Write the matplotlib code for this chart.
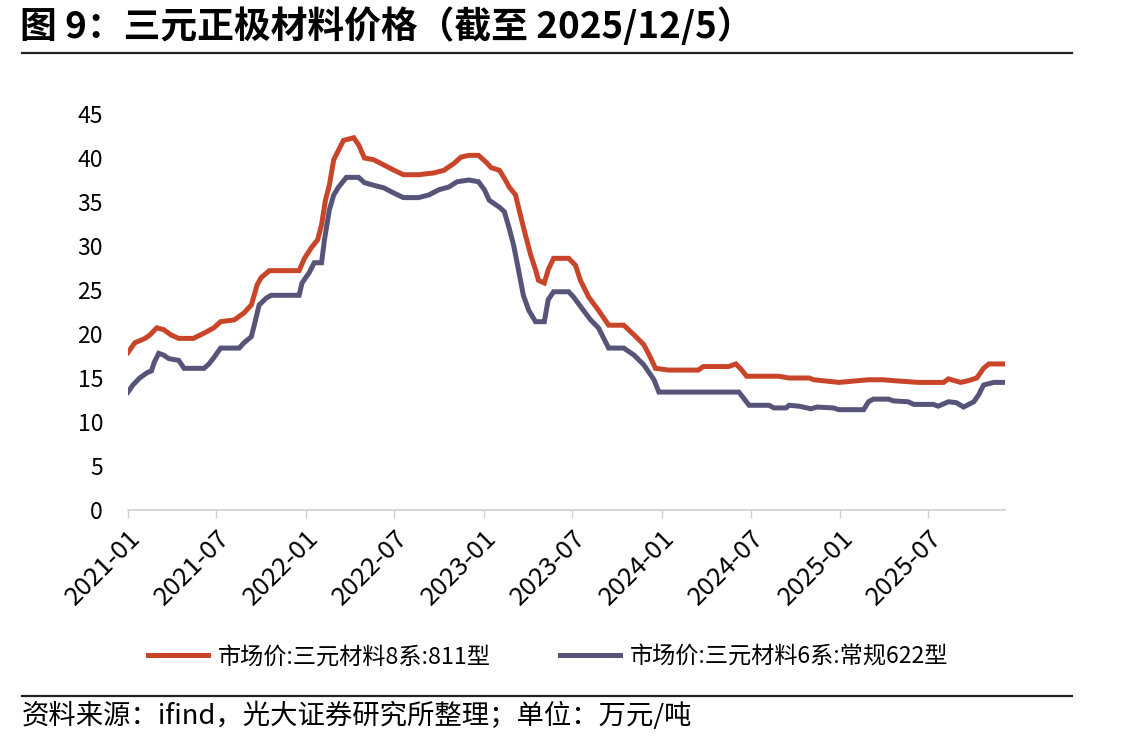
import matplotlib
matplotlib.use("Agg")
import matplotlib.pyplot as plt
import numpy as np
from matplotlib.lines import Line2D

plt.rcParams['font.family'] = ['Noto Sans CJK SC', 'DejaVu Sans']

# ---- data (万元/吨) ----
dates_811 = ["2021-01-01", "2021-01-15", "2021-02-05", "2021-02-15", "2021-03-01", "2021-03-15",
             "2021-03-30", "2021-04-15", "2021-05-15", "2021-06-06", "2021-06-26", "2021-07-10",
             "2021-08-07", "2021-08-27", "2021-09-11", "2021-09-23", "2021-10-01", "2021-10-18",
             "2021-12-18", "2021-12-29", "2022-01-12", "2022-01-25", "2022-02-02", "2022-02-10",
             "2022-02-18", "2022-02-27", "2022-03-09", "2022-03-19", "2022-04-09", "2022-04-19",
             "2022-05-01", "2022-05-20", "2022-06-10", "2022-07-01", "2022-07-20", "2022-08-20",
             "2022-09-20", "2022-10-11", "2022-11-01", "2022-11-15", "2022-12-01", "2022-12-21",
             "2023-01-06", "2023-01-16", "2023-02-02", "2023-02-12", "2023-02-22", "2023-03-07",
             "2023-03-17", "2023-03-27", "2023-04-07", "2023-04-17", "2023-04-23", "2023-05-05",
             "2023-05-13", "2023-05-24", "2023-06-24", "2023-07-08", "2023-07-18", "2023-08-04",
             "2023-08-24", "2023-09-14", "2023-10-15", "2023-11-05", "2023-11-25", "2023-12-09",
             "2023-12-19", "2024-01-15", "2024-03-16", "2024-03-26", "2024-05-17", "2024-06-01",
             "2024-06-13", "2024-06-23", "2024-08-28", "2024-09-18", "2024-10-29", "2024-11-08",
             "2024-12-29", "2025-02-28", "2025-03-30", "2025-04-20", "2025-06-10", "2025-08-01",
             "2025-08-11", "2025-09-05", "2025-09-21", "2025-10-08", "2025-10-22", "2025-11-02",
             "2025-12-05"]
price_811 = [17.9, 19.0, 19.5, 19.9, 20.7, 20.5,
             19.9, 19.5, 19.5, 20.1, 20.7, 21.4,
             21.6, 22.4, 23.3, 25.6, 26.4, 27.2,
             27.2, 28.6, 29.8, 30.7, 32.4, 35.2,
             36.9, 39.8, 40.9, 42.0, 42.3, 41.5,
             40.0, 39.8, 39.2, 38.6, 38.1, 38.1,
             38.3, 38.6, 39.4, 40.1, 40.3, 40.3,
             39.5, 38.9, 38.6, 37.7, 36.7, 35.8,
             33.5, 31.3, 29.0, 27.3, 26.1, 25.8,
             27.3, 28.6, 28.6, 27.8, 26.1, 24.2,
             22.7, 21.0, 21.0, 19.9, 18.8, 17.3,
             16.1, 15.9, 15.9, 16.3, 16.3, 16.6,
             15.9, 15.2, 15.2, 15.0, 15.0, 14.8,
             14.5, 14.8, 14.8, 14.7, 14.5, 14.5,
             14.9, 14.5, 14.7, 15.0, 16.1, 16.6,
             16.6]

dates_622 = ["2021-01-01", "2021-01-11", "2021-01-25", "2021-02-09", "2021-02-18", "2021-02-24",
             "2021-03-05", "2021-03-15", "2021-03-26", "2021-04-15", "2021-04-26", "2021-06-06",
             "2021-06-16", "2021-06-26", "2021-07-10", "2021-08-17", "2021-08-27", "2021-09-11",
             "2021-09-17", "2021-09-27", "2021-10-12", "2021-10-22", "2021-12-18", "2021-12-24",
             "2022-01-08", "2022-01-18", "2022-02-02", "2022-02-08", "2022-02-18", "2022-02-27",
             "2022-03-09", "2022-03-25", "2022-04-19", "2022-05-01", "2022-05-20", "2022-06-10",
             "2022-07-01", "2022-07-20", "2022-08-20", "2022-09-10", "2022-10-01", "2022-10-21",
             "2022-11-07", "2022-12-01", "2022-12-21", "2023-01-02", "2023-01-12", "2023-02-02",
             "2023-02-12", "2023-02-22", "2023-03-03", "2023-03-13", "2023-03-23", "2023-04-03",
             "2023-04-17", "2023-05-05", "2023-05-13", "2023-05-24", "2023-06-24", "2023-07-04",
             "2023-07-24", "2023-08-08", "2023-08-24", "2023-09-14", "2023-10-15", "2023-11-05",
             "2023-11-25", "2023-12-16", "2023-12-26", "2024-06-07", "2024-06-17", "2024-06-28",
             "2024-08-08", "2024-08-18", "2024-09-12", "2024-09-18", "2024-10-08", "2024-11-02",
             "2024-11-14", "2024-12-18", "2024-12-29", "2025-02-18", "2025-02-28", "2025-03-10",
             "2025-04-10", "2025-04-20", "2025-05-20", "2025-06-01", "2025-07-11", "2025-07-21",
             "2025-08-11", "2025-08-27", "2025-09-11", "2025-10-02", "2025-10-12", "2025-10-22",
             "2025-11-12", "2025-12-05"]
price_622 = [13.4, 14.2, 15.0, 15.6, 15.8, 16.8,
             17.8, 17.6, 17.2, 17.0, 16.1, 16.1,
             16.6, 17.3, 18.4, 18.4, 19.0, 19.7,
             21.0, 23.3, 24.1, 24.4, 24.4, 25.8,
             27.0, 28.1, 28.1, 30.7, 34.1, 35.8,
             36.7, 37.8, 37.8, 37.2, 36.9, 36.6,
             36.0, 35.5, 35.5, 35.8, 36.4, 36.7,
             37.3, 37.5, 37.3, 36.4, 35.2, 34.4,
             33.9, 32.0, 30.1, 27.3, 24.4, 22.7,
             21.4, 21.4, 23.9, 24.8, 24.8, 24.2,
             22.7, 21.6, 20.7, 18.4, 18.4, 17.6,
             16.5, 14.8, 13.4, 13.4, 12.7, 11.9,
             11.9, 11.6, 11.6, 11.9, 11.8, 11.5,
             11.7, 11.6, 11.4, 11.4, 12.3, 12.6,
             12.6, 12.4, 12.3, 12.0, 12.0, 11.8,
             12.3, 12.2, 11.7, 12.3, 13.1, 14.2,
             14.5, 14.5]

series_labels = ["市场价:三元材料8系:811型", "市场价:三元材料6系:常规622型"]
tick_labels = ["2021-01", "2021-07", "2022-01", "2022-07", "2023-01", "2023-07",
               "2024-01", "2024-07", "2025-01", "2025-07"]
yticks = [0, 5, 10, 15, 20, 25, 30, 35, 40, 45]

title = "图 9：三元正极材料价格（截至 2025/12/5）"
source = "资料来源：ifind，光大证券研究所整理；单位：万元/吨"

c_red = "#C9452A"
c_blue = "#57547A"

# ---- figure ----
W, H = 1143, 744
fig = plt.figure(figsize=(W / 100, H / 100), dpi=100)
ax = fig.add_axes([128 / W, 1 - 510 / H, (1005 - 128) / W, (510 - 114) / H])

d811 = np.array(dates_811, dtype="datetime64[D]")
d622 = np.array(dates_622, dtype="datetime64[D]")
ax.plot(d811, price_811, color=c_red, lw=3.6, solid_joinstyle="miter", label=series_labels[0])
ax.plot(d622, price_622, color=c_blue, lw=3.6, solid_joinstyle="miter", label=series_labels[1])

ax.set_ylim(0, 45)
ax.set_yticks(yticks)
ax.set_yticklabels([str(v) for v in yticks], fontsize=16.5)
ax.tick_params(axis="y", length=0, pad=18)

ax.set_xlim(np.datetime64("2021-01-01"), np.datetime64("2025-12-05"))
xt = np.array([t + "-01" for t in tick_labels], dtype="datetime64[D]")
ax.set_xticks(xt)
ax.set_xticklabels(tick_labels, fontsize=18.5, rotation=45, ha="right", rotation_mode="anchor")
ax.tick_params(axis="x", length=6, width=1, color="#D0D0D0", pad=5)

for s in ["top", "right", "left"]:
    ax.spines[s].set_visible(False)
ax.spines["bottom"].set_color("#D0D0D0")
ax.spines["bottom"].set_linewidth(1.2)

# title and rules
fig.text(20 / W, 1 - 27 / H, title, fontsize=26.5, fontweight="bold", ha="left", va="center")
fig.add_artist(Line2D([22 / W, 1072 / W], [1 - 53 / H, 1 - 53 / H], color="#222222", lw=1.6))
fig.add_artist(Line2D([22 / W, 1072 / W], [1 - 696 / H, 1 - 696 / H], color="#222222", lw=1.6))
fig.text(22 / W, 1 - 716 / H, source, fontsize=19.7, ha="left", va="center")

# legend
fig.legend(handles=ax.get_lines(), labels=series_labels, loc="center",
           bbox_to_anchor=(548 / W, 1 - 657 / H), ncol=2, frameon=False,
           fontsize=16.7, handlelength=2.6, handletextpad=0.4, columnspacing=3.0)

fig.savefig("out.png", dpi=100)
